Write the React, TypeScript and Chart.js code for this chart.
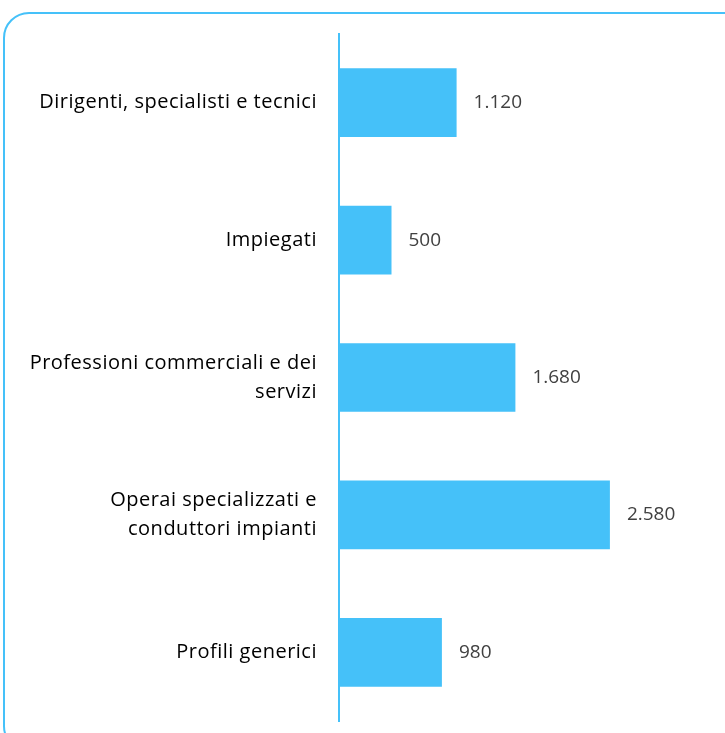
import React, { useEffect, useRef } from "react";
import { Chart, registerables } from "chart.js";

Chart.register(...registerables);

const categories: (string | string[])[] = [
  "Dirigenti, specialisti e tecnici",
  "Impiegati",
  ["Professioni commerciali e dei", "servizi"],
  ["Operai specializzati e", "conduttori impianti"],
  "Profili generici",
];
const values = [1120, 500, 1680, 2580, 980];

const BAR_COLOR = "#45c1f9";
const FONT = "'Open Sans', sans-serif";
const VALUE_SIZE = 19;
const LABEL_SIZE = 20;

const fmt = (v: number) =>
  v >= 1000 ? `${Math.floor(v / 1000)}.${String(v % 1000).padStart(3, "0")}` : String(v);

const spacing = {
  id: "spacing",
  beforeDraw(chart: any) {
    chart.ctx.letterSpacing = "0.5px";
  },
};

const valueLabels = {
  id: "valueLabels",
  afterDatasetsDraw(chart: any) {
    const ctx = chart.ctx;
    const meta = chart.getDatasetMeta(0);
    ctx.save();
    ctx.letterSpacing = "0px";
    ctx.font = `${VALUE_SIZE}px ${FONT}`;
    ctx.fillStyle = "#404040";
    ctx.textAlign = "left";
    ctx.textBaseline = "middle";
    meta.data.forEach((bar: any, i: number) => {
      ctx.fillText(fmt(values[i]), bar.x + 17, bar.y);
    });
    ctx.restore();
  },
};

export default function App() {
  const ref = useRef<HTMLCanvasElement>(null);
  useEffect(() => {
    const chart = new Chart(ref.current!, {
      type: "bar",
      data: {
        labels: categories,
        datasets: [
          {
            data: values,
            backgroundColor: BAR_COLOR,
            borderWidth: 0,
            categoryPercentage: 1,
            barPercentage: 0.5,
          },
        ],
      },
      options: {
        indexAxis: "y",
        animation: false,
        responsive: false,
        maintainAspectRatio: false,
        layout: { padding: { left: 0, right: 29, top: 34, bottom: 12 } },
        plugins: { legend: { display: false }, tooltip: { enabled: false } },
        scales: {
          x: { display: false, min: 0, max: 3400 },
          y: {
            afterFit: (scale: any) => {
              scale.width = 339;
              scale.paddingTop = 0;
              scale.paddingBottom = 0;
            },
            grid: { display: false, drawTicks: false, tickLength: 0 },
            border: { display: true, color: BAR_COLOR, width: 2 },
            ticks: {
              padding: 22,
              color: "#000000",
              font: { family: FONT, size: LABEL_SIZE, lineHeight: 1.45 },
            },
          },
        },
      },
      plugins: [spacing, valueLabels],
    });
    return () => chart.destroy();
  }, []);
  return (
    <div style={{ position: "fixed", left: 0, top: 0, width: 725, height: 733, overflow: "hidden", background: "#fff" }}>
      <div
        style={{
          position: "absolute",
          left: 3,
          top: 12,
          width: 750,
          height: 740,
          border: "2px solid #45c1f9",
          borderRadius: 26,
          boxSizing: "border-box",
        }}
      />
      <canvas ref={ref} width={725} height={733} style={{ position: "absolute", left: 0, top: 0 }} />
    </div>
  );
}
